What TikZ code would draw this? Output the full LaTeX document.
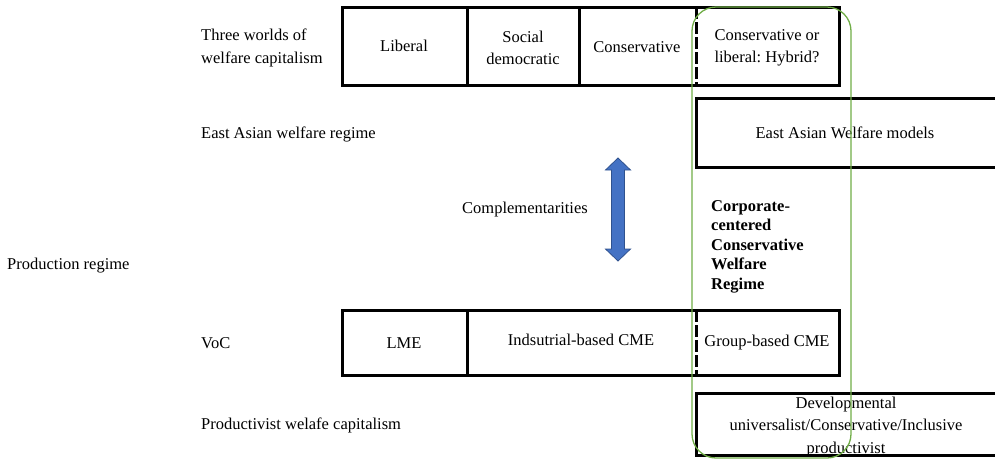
\documentclass[tikz,border=0pt]{standalone}
\usepackage{fontspec}
\setmainfont{Liberation Serif}
\frenchspacing
\newcommand\fsnorm{\fontsize{16.5}{22.5}\selectfont}
\newcommand\fsbold{\fontsize{16.5}{19.5}\selectfont\bfseries}
\definecolor{gcol}{RGB}{112,173,71}
\definecolor{afill}{RGB}{68,114,196}
\definecolor{aline}{RGB}{47,82,143}
\begin{document}
\begin{tikzpicture}[x=1pt,y=-1pt,
  lbl/.style={font=\fsnorm, inner sep=0pt},
  cell/.style={font=\fsnorm, align=center, inner sep=0pt},
  frame/.style={line width=3pt, draw=black},
  dashdiv/.style={line width=3pt, draw=black, dash pattern=on 12pt off 3pt},
  grp/.style={draw=gcol, line width=1.3pt, rounded corners=24pt}]
\useasboundingbox (0,0) rectangle (995,459);

% left labels
\node[lbl, anchor=west, align=left] (three) at (201,48) {Three worlds of\\welfare capitalism};
\node[lbl, anchor=west] (ea) at (201,134) {East Asian welfare regime};
\node[lbl, anchor=west] (prod) at (7,266) {Production regime};
\node[lbl, anchor=west] (voc) at (201,343) {VoC};
\node[lbl, anchor=west] (pwc) at (201,425) {Productivist welafe capitalism};

% top row
\draw[frame] (342,7) rectangle (839,85);
\coordinate (t1a) at (467,7); \coordinate (t1b) at (467,85);
\coordinate (t2a) at (579,7); \coordinate (t2b) at (579,85);
\coordinate (t3a) at (696,7); \coordinate (t3b) at (696,85);
\draw[frame] (t1a) -- (t1b);
\draw[frame] (t2a) -- (t2b);
\draw[dashdiv] (t3a) -- (t3b);
\node[cell] (lib) at (404,46) {Liberal};
\node[cell] (soc) at (523,48) {Social\\democratic};
\node[cell] (cons) at (637,47) {Conservative};
\node[cell] (hyb) at (767,48) {Conservative or\\liberal: Hybrid?};

% East Asian models
\node[cell] (eam) at (845,133) {East Asian Welfare models};
\draw[frame] (696,98) rectangle (1000,167);

% complementarities
\node[lbl, anchor=west] (comp) at (462,210) {Complementarities};
\draw[aline, fill=afill, line width=0.8pt]
  (618,158) -- (630.5,170) -- (624.5,170) -- (624.5,249) -- (630.5,249)
  -- (618,261) -- (605.5,249) -- (611.5,249) -- (611.5,170) -- (605.5,170) -- cycle;

\node[font=\fsbold, anchor=north west, align=left, inner sep=0pt] (ccw) at (711,200)
  {Corporate-\\centered\\Conservative\\Welfare\\Regime};

% VoC row
\draw[frame] (342,310) rectangle (839,375);
\coordinate (v1a) at (467,310); \coordinate (v1b) at (467,375);
\coordinate (v2a) at (696,310); \coordinate (v2b) at (696,375);
\draw[frame] (v1a) -- (v1b);
\draw[dashdiv] (v2a) -- (v2b);
\node[cell] (lme) at (404,343) {LME};
\node[cell] (ind) at (581,340) {Indsutrial-based CME};
\node[cell] (gcme) at (767,343) {Group-based CME};

% productivist
\node[cell] (dev) at (846,427) {Developmental\\universalist/Conservative/Inclusive\\productivist};
\draw[frame] (696,393) rectangle (1000,455);

% green grouping
\draw[grp] (692,7) rectangle (851,458);
\end{tikzpicture}
\end{document}
